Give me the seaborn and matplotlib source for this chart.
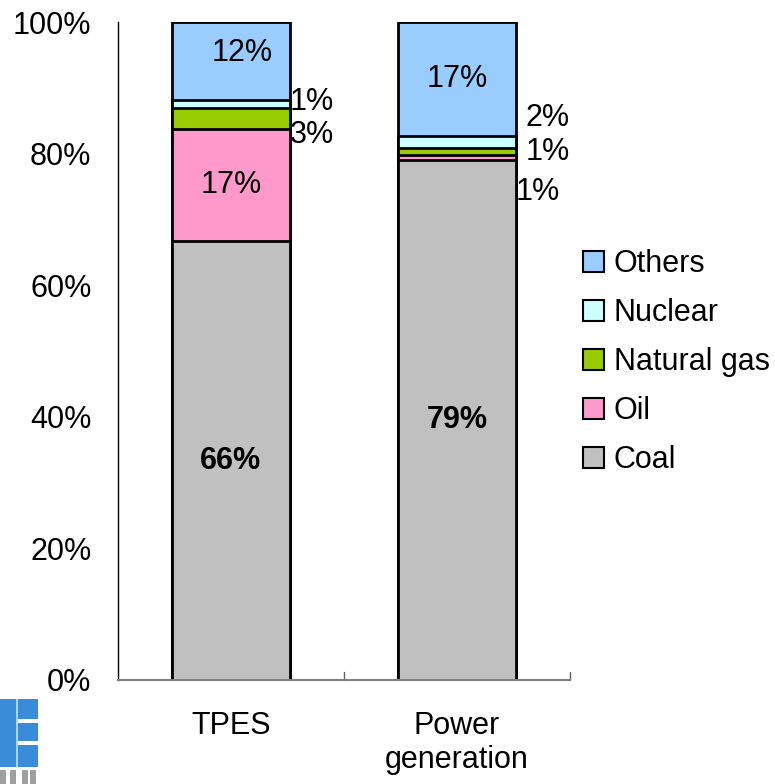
import matplotlib
matplotlib.use("Agg")
import matplotlib.pyplot as plt
import matplotlib.patches as mpatches
import seaborn as sns
import pandas as pd
import numpy as np

# --- Data (share of total, %) ---
categories = ["TPES", "Power\ngeneration"]
coal = [66.7, 79.1]
oil = [17.0, 0.7]
natural_gas = [3.3, 1.0]
nuclear = [1.1, 1.9]
others = [11.9, 17.3]

sources = ["Coal", "Oil", "Natural gas", "Nuclear", "Others"]
colors = {"Coal": "#C0C0C0", "Oil": "#FF99CC", "Natural gas": "#99CC00",
          "Nuclear": "#CCFFFF", "Others": "#99CCFF"}

inside_labels = {"TPES": ["66%", "17%", "12%"], "Power\ngeneration": ["79%", "17%"]}
outside_labels = {"TPES": ["1%", "3%"], "Power\ngeneration": ["2%", "1%", "1%"]}

df = pd.DataFrame({"Category": categories, "Coal": coal, "Oil": oil,
                   "Natural gas": natural_gas, "Nuclear": nuclear, "Others": others})

# --- Style ---
sns.set_style("white")
plt.rcParams.update({
    "font.family": ["Liberation Sans", "DejaVu Sans"],
    "font.size": 22,
    "text.color": "black",
    "axes.labelcolor": "black",
    "xtick.color": "black",
    "ytick.color": "black",
})
FS = 22

fig = plt.figure(figsize=(7.75, 7.84), dpi=100)
ax = fig.add_axes([0.152, 0.1327, 0.5835, 0.8392])

# stacked bars: draw cumulative totals from the top layer down
cum = df[sources].cumsum(axis=1)
for src in reversed(sources):
    sns.barplot(x=df["Category"], y=cum[src], color=colors[src], width=0.52,
                edgecolor="black", linewidth=2, ax=ax, saturation=1)

ax.set_ylim(0, 100)
ax.set_xlim(-0.5, 1.5)
ax.set_xlabel("")
ax.set_ylabel("")
ax.set_yticks([0, 20, 40, 60, 80, 100])
ax.set_yticklabels([f"{v}%" for v in range(0, 101, 20)])
ax.set_xticks([0, 1])
ax.set_xticklabels(categories)
ax.tick_params(axis="y", direction="in", length=7, width=1, color="#404040", pad=19, labelsize=FS)
ax.tick_params(axis="x", length=0, pad=22, labelsize=FS)
# category boundary ticks on x axis
for xb in [0.5, 1.5]:
    ax.plot([xb, xb], [0, 1.2], color="#606060", lw=1, clip_on=False)

for s in ["top", "right"]:
    ax.spines[s].set_visible(False)
ax.spines["left"].set_color("black")
ax.spines["left"].set_linewidth(1)
ax.spines["bottom"].set_color("#808080")
ax.spines["bottom"].set_linewidth(1.5)

# --- Value labels ---
# TPES
ax.text(0, coal[0] / 2, inside_labels["TPES"][0], ha="center", va="center", fontsize=FS, fontweight="bold")
ax.text(0, coal[0] + oil[0] / 2, inside_labels["TPES"][1], ha="center", va="center", fontsize=FS)
ax.text(0.05, 100 - others[0] / 2 + 1.3, inside_labels["TPES"][2], ha="center", va="center", fontsize=FS)
ax.text(0.262, 87.9, outside_labels["TPES"][0], ha="left", va="center", fontsize=FS)
ax.text(0.262, 82.8, outside_labels["TPES"][1], ha="left", va="center", fontsize=FS)
# Power generation
ax.text(1, coal[1] / 2, inside_labels["Power\ngeneration"][0], ha="center", va="center", fontsize=FS, fontweight="bold")
ax.text(1, 100 - others[1] / 2, inside_labels["Power\ngeneration"][1], ha="center", va="center", fontsize=FS)
ax.text(1.302, 85.4, outside_labels["Power\ngeneration"][0], ha="left", va="center", fontsize=FS)
ax.text(1.302, 80.2, outside_labels["Power\ngeneration"][1], ha="left", va="center", fontsize=FS)
ax.text(1.258, 74.2, outside_labels["Power\ngeneration"][2], ha="left", va="center", fontsize=FS)

# --- Legend ---
handles = [mpatches.Patch(facecolor=colors[s], edgecolor="black", linewidth=1.5, label=s)
           for s in reversed(sources)]
fig.legend(handles=handles, loc="upper left", bbox_to_anchor=(583 / 775, 1 - 249 / 784),
           frameon=False, fontsize=FS, handlelength=0.68, handleheight=0.68,
           handletextpad=0.33, labelspacing=0.62, borderpad=0, borderaxespad=0)

# --- partial logo in the corner ---
W, H = 775, 784
fig.patches.append(mpatches.Rectangle((0, 1 - 767 / H), 38 / W, 68 / H, transform=fig.transFigure,
                                      facecolor="#3A8CD8", edgecolor="none"))
fig.patches.append(mpatches.Rectangle((16 / W, 1 - 767 / H), 2 / W, 68 / H, transform=fig.transFigure,
                                      facecolor="#A8D4F8", edgecolor="none"))
for yy in [721, 743]:
    fig.patches.append(mpatches.Rectangle((18 / W, 1 - (yy + 2) / H), 20 / W, 4 / H, transform=fig.transFigure,
                                          facecolor="white", edgecolor="none"))
for xx in [0, 10, 22, 30]:
    fig.patches.append(mpatches.Rectangle((xx / W, 0), 6 / W, 14 / H, transform=fig.transFigure,
                                          facecolor="#A0A0A0", edgecolor="none"))

fig.savefig("out.png", dpi=100)
